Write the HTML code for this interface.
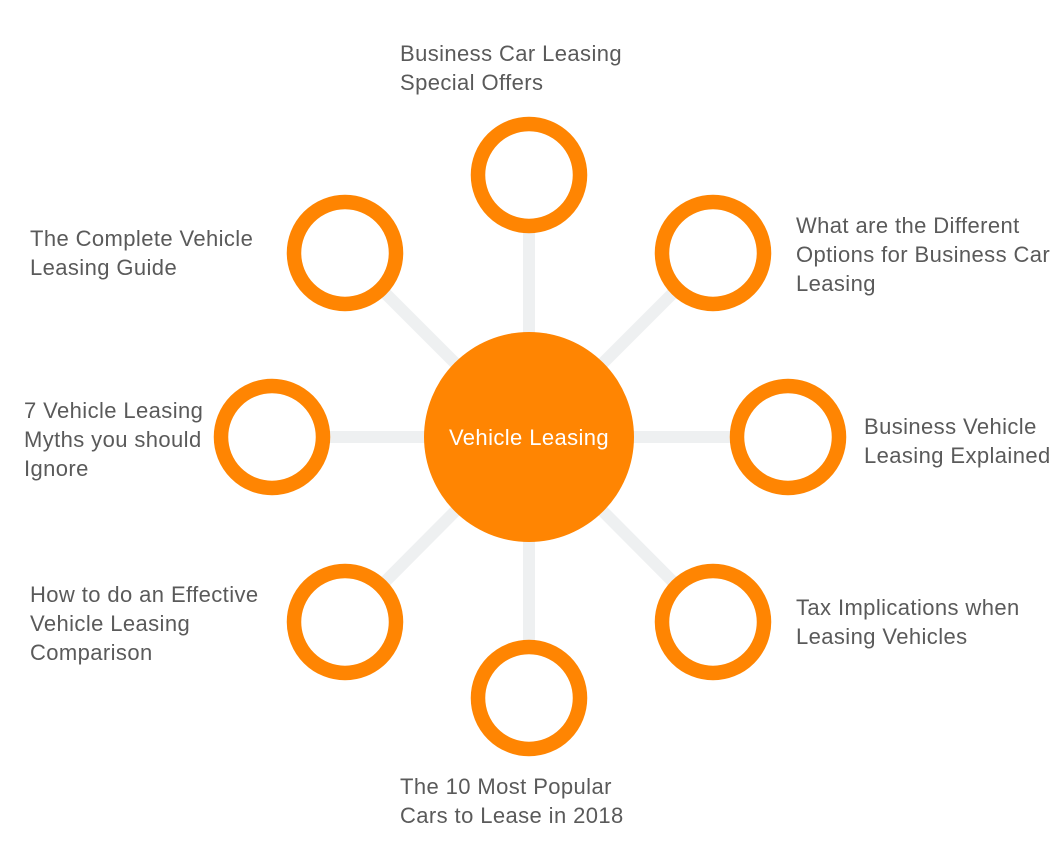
<!DOCTYPE html>
<html><head><meta charset="utf-8"><style>
html,body{margin:0;padding:0;background:#fff;}
svg text{font-family:"Liberation Sans",sans-serif;font-size:22px;fill:#5a5a5a;letter-spacing:0.4px;}
</style></head><body>
<svg width="1063" height="852" viewBox="0 0 1063 852" xmlns="http://www.w3.org/2000/svg">
<g stroke="#eef0f1" stroke-width="12">
<line x1="529" y1="437" x2="529" y2="175"/>
<line x1="529" y1="437" x2="713" y2="253"/>
<line x1="529" y1="437" x2="788" y2="437"/>
<line x1="529" y1="437" x2="713" y2="622"/>
<line x1="529" y1="437" x2="529" y2="698"/>
<line x1="529" y1="437" x2="345" y2="622"/>
<line x1="529" y1="437" x2="272" y2="437"/>
<line x1="529" y1="437" x2="345" y2="253"/>
</g>
<g fill="#fff" stroke="#ff8502" stroke-width="14.5">
<circle cx="529" cy="175" r="51"/>
<circle cx="713" cy="253" r="51"/>
<circle cx="788" cy="437" r="51"/>
<circle cx="713" cy="622" r="51"/>
<circle cx="529" cy="698" r="51"/>
<circle cx="345" cy="622" r="51"/>
<circle cx="272" cy="437" r="51"/>
<circle cx="345" cy="253" r="51"/>
</g>
<circle cx="529" cy="437" r="105" fill="#ff8502"/>
<text x="529" y="445" text-anchor="middle" style="fill:#fff;font-size:22px">Vehicle Leasing</text>
<text x="400" y="61">Business Car Leasing</text>
<text x="400" y="90">Special Offers</text>
<text x="796" y="233">What are the Different</text>
<text x="796" y="262">Options for Business Car</text>
<text x="796" y="291">Leasing</text>
<text x="864" y="434">Business Vehicle</text>
<text x="864" y="463">Leasing Explained</text>
<text x="796" y="615">Tax Implications when</text>
<text x="796" y="644">Leasing Vehicles</text>
<text x="400" y="794">The 10 Most Popular</text>
<text x="400" y="823">Cars to Lease in 2018</text>
<text x="30" y="602">How to do an Effective</text>
<text x="30" y="631">Vehicle Leasing</text>
<text x="30" y="660">Comparison</text>
<text x="24" y="418">7 Vehicle Leasing</text>
<text x="24" y="447">Myths you should</text>
<text x="24" y="476">Ignore</text>
<text x="30" y="246">The Complete Vehicle</text>
<text x="30" y="275">Leasing Guide</text>
</svg>
</body></html>
